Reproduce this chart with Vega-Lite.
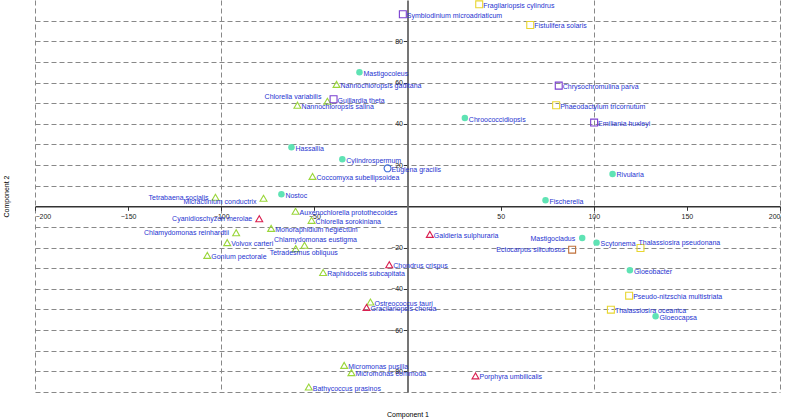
{
  "$schema": "https://vega.github.io/schema/vega-lite/v6.json",
  "width": 745,
  "height": 392,
  "autosize": "none",
  "padding": {"left": 35, "top": 0, "right": 7, "bottom": 28},
  "background": "white",
  "config": {
    "view": {"stroke": null},
    "font": "Liberation Sans",
    "axis": {"labelFont": "Liberation Sans", "titleFont": "Liberation Sans"}
  },
  "data": {
    "values": [
      {"name": "Mastigocoleus", "x": -25.8, "y": 65.0, "group": "Cyanobacteria"},
      {"name": "Hassallia", "x": -62.3, "y": 28.6, "group": "Cyanobacteria"},
      {"name": "Cylindrospermum", "x": -35.0, "y": 22.8, "group": "Cyanobacteria"},
      {"name": "Nostoc", "x": -67.7, "y": 5.8, "group": "Cyanobacteria"},
      {"name": "Chroococcidiopsis", "x": 30.8, "y": 42.8, "group": "Cyanobacteria"},
      {"name": "Rivularia", "x": 110.1, "y": 15.7, "group": "Cyanobacteria"},
      {"name": "Fischerella", "x": 74.1, "y": 2.9, "group": "Cyanobacteria"},
      {"name": "Mastigocladus", "x": 93.8, "y": -15.4, "group": "Cyanobacteria"},
      {"name": "Scytonema", "x": 101.5, "y": -17.6, "group": "Cyanobacteria"},
      {"name": "Gloeobacter", "x": 119.4, "y": -31.0, "group": "Cyanobacteria"},
      {"name": "Gloeocapsa", "x": 133.2, "y": -53.3, "group": "Cyanobacteria"},
      {"name": "Nannochloropsis gaditana", "x": -38.1, "y": 59.1, "group": "Green algae"},
      {"name": "Chlorella variabilis", "x": -43.0, "y": 50.9, "group": "Green algae"},
      {"name": "Nannochloropsis salina", "x": -59.1, "y": 49.0, "group": "Green algae"},
      {"name": "Coccomyxa subellipsoidea", "x": -51.0, "y": 14.5, "group": "Green algae"},
      {"name": "Tetrabaena socialis", "x": -103.1, "y": 4.4, "group": "Green algae"},
      {"name": "Micractinium conductrix", "x": -77.3, "y": 3.9, "group": "Green algae"},
      {"name": "Auxenochlorella protothecoides", "x": -60.1, "y": -2.4, "group": "Green algae"},
      {"name": "Chlorella sorokiniana", "x": -51.5, "y": -6.8, "group": "Green algae"},
      {"name": "Chlamydomonas reinhardtii", "x": -92.0, "y": -12.8, "group": "Green algae"},
      {"name": "Monoraphidium neglectum", "x": -73.2, "y": -10.7, "group": "Green algae"},
      {"name": "Volvox carteri", "x": -96.8, "y": -17.6, "group": "Green algae"},
      {"name": "Chlamydomonas eustigma", "x": -55.3, "y": -18.9, "group": "Green algae"},
      {"name": "Tetradesmus obliquus", "x": -60.0, "y": -20.5, "group": "Green algae"},
      {"name": "Gonium pectorale", "x": -107.5, "y": -23.8, "group": "Green algae"},
      {"name": "Raphidocelis subcapitata", "x": -45.3, "y": -32.1, "group": "Green algae"},
      {"name": "Ostreococcus tauri", "x": -19.9, "y": -46.4, "group": "Green algae"},
      {"name": "Micromonas pusilla", "x": -34.0, "y": -77.1, "group": "Green algae"},
      {"name": "Micromonas commoda", "x": -30.1, "y": -80.6, "group": "Green algae"},
      {"name": "Bathycoccus prasinos", "x": -53.0, "y": -87.6, "group": "Green algae"},
      {"name": "Cyanidioschyzon merolae", "x": -79.6, "y": -6.0, "group": "Red algae"},
      {"name": "Gracilariopsis chorda", "x": -22.0, "y": -49.0, "group": "Red algae"},
      {"name": "Chondrus crispus", "x": -9.8, "y": -28.3, "group": "Red algae"},
      {"name": "Galdieria sulphuraria", "x": 12.0, "y": -13.6, "group": "Red algae"},
      {"name": "Porphyra umbilicalis", "x": 36.5, "y": -82.2, "group": "Red algae"},
      {"name": "Fragilariopsis cylindrus", "x": 38.5, "y": 97.9, "group": "Diatoms"},
      {"name": "Fistulifera solaris", "x": 65.9, "y": 87.9, "group": "Diatoms"},
      {"name": "Phaeodactylum tricornutum", "x": 79.8, "y": 49.0, "group": "Diatoms"},
      {"name": "Thalassiosira pseudonana", "x": 125.1, "y": -20.2, "group": "Diatoms"},
      {"name": "Pseudo-nitzschia multistriata", "x": 119.0, "y": -43.3, "group": "Diatoms"},
      {"name": "Thalassiosira oceanica", "x": 109.2, "y": -50.1, "group": "Diatoms"},
      {"name": "Symbiodinium microadriaticum", "x": -2.5, "y": 93.1, "group": "Other chromalveolates"},
      {"name": "Guillardia theta", "x": -39.7, "y": 51.9, "group": "Other chromalveolates"},
      {"name": "Chrysochromulina parva", "x": 81.2, "y": 58.5, "group": "Other chromalveolates"},
      {"name": "Emiliania huxleyi", "x": 100.2, "y": 40.6, "group": "Other chromalveolates"},
      {"name": "Ectocarpus siliculosus", "x": 88.4, "y": -21.0, "group": "Brown algae"},
      {"name": "Euglena gracilis", "x": -10.7, "y": 18.4, "group": "Euglenozoa"}
    ]
  },
  "encoding": {
    "x": {"field": "x", "type": "quantitative", "scale": {"domain": [-200, 200], "nice": false, "zero": false}},
    "y": {"field": "y", "type": "quantitative", "scale": {"domain": [-90, 100], "nice": false, "zero": false}}
  },
  "resolve": {"axis": {"x": "independent", "y": "independent"}},
  "layer": [
    {
      "transform": [{"filter": {"field": "group", "equal": "Cyanobacteria"}}],
      "mark": {"type": "point", "shape": "circle", "filled": true, "size": 42, "opacity": 1},
      "encoding": {
        "x": {"field": "x", "type": "quantitative", "axis": {"orient": "bottom", "values": [-200, -100, 100, 200], "grid": true, "gridDash": [5, 3], "gridColor": "#888", "gridWidth": 1, "gridOpacity": 1, "labels": false, "ticks": false, "domain": false, "title": "Component 1", "titleFontSize": 7, "titleFontWeight": "normal", "titleColor": "#000", "titlePadding": 18}},
        "y": {"field": "y", "type": "quantitative", "axis": {"orient": "left", "values": [-90, -80, -70, -60, -50, -40, -30, -20, -10, 10, 20, 30, 40, 50, 60, 70, 80, 90], "grid": true, "gridDash": [5, 3], "gridColor": "#888", "gridWidth": 1, "gridOpacity": 1, "labels": false, "ticks": false, "domain": false, "title": "Component 2", "titleFontSize": 7, "titleFontWeight": "normal", "titleColor": "#000", "titlePadding": 26}},
        "color": {"field": "group", "type": "nominal", "legend": null, "scale": {"domain": ["Cyanobacteria", "Green algae", "Red algae", "Diatoms", "Other chromalveolates", "Brown algae", "Euglenozoa"], "range": ["#5fe3b4", "#9ad63a", "#d92050", "#e8d630", "#7a3fd0", "#c0703a", "#3a6ad6"]}}
      }
    },
    {
      "transform": [{"filter": {"not": {"field": "group", "equal": "Cyanobacteria"}}}],
      "mark": {"type": "point", "filled": false, "size": 48, "strokeWidth": 1.1, "opacity": 1},
      "encoding": {
        "x": {"field": "x", "type": "quantitative", "axis": {"orient": "bottom", "offset": -185.7, "values": [-200, -150, -100, -50, 50, 100, 150, 200], "grid": false, "domain": true, "domainColor": "#333", "domainWidth": 1.5, "ticks": true, "tickColor": "#333", "tickSize": 4, "labelFontSize": 7, "labelColor": "#222", "labelPadding": 2, "title": null}},
        "y": {"field": "y", "type": "quantitative", "axis": {"orient": "left", "offset": -372.5, "values": [-80, -60, -40, -20, 20, 40, 60, 80], "grid": false, "domain": true, "domainColor": "#666", "domainWidth": 1.8, "ticks": true, "tickColor": "#333", "tickSize": 4, "labelFontSize": 7, "labelColor": "#222", "labelPadding": 1, "title": null}},
        "shape": {"field": "group", "type": "nominal", "legend": null, "scale": {"domain": ["Green algae", "Red algae", "Diatoms", "Other chromalveolates", "Brown algae", "Euglenozoa"], "range": ["triangle-up", "triangle-up", "square", "square", "square", "circle"]}},
        "color": {"field": "group", "type": "nominal", "legend": null}
      }
    },
    {
      "transform": [{"filter": {"not": {"field": "name", "oneOf": ["Tetrabaena socialis", "Cyanidioschyzon merolae", "Chlamydomonas reinhardtii", "Mastigocladus", "Ectocarpus siliculosus", "Chlorella variabilis", "Micractinium conductrix", "Chlamydomonas eustigma", "Tetradesmus obliquus", "Thalassiosira pseudonana"]}}}],
      "mark": {"type": "text", "align": "left", "baseline": "middle", "dx": 4, "dy": 1.5, "fontSize": 7, "color": "#2633d0"},
      "encoding": {"x": {"field": "x", "type": "quantitative", "axis": null}, "y": {"field": "y", "type": "quantitative", "axis": null}, "text": {"field": "name"}}
    },
    {
      "transform": [{"filter": {"field": "name", "oneOf": ["Tetrabaena socialis", "Cyanidioschyzon merolae", "Chlamydomonas reinhardtii", "Mastigocladus", "Ectocarpus siliculosus"]}}],
      "mark": {"type": "text", "align": "right", "baseline": "middle", "dx": -7, "dy": 0.5, "fontSize": 7, "color": "#2633d0"},
      "encoding": {"x": {"field": "x", "type": "quantitative", "axis": null}, "y": {"field": "y", "type": "quantitative", "axis": null}, "text": {"field": "name"}}
    },
    {
      "transform": [{"filter": {"field": "name", "oneOf": ["Chlorella variabilis"]}}],
      "mark": {"type": "text", "align": "right", "baseline": "middle", "dx": -6, "dy": -4, "fontSize": 7, "color": "#2633d0"},
      "encoding": {"x": {"field": "x", "type": "quantitative", "axis": null}, "y": {"field": "y", "type": "quantitative", "axis": null}, "text": {"field": "name"}}
    },
    {
      "transform": [{"filter": {"field": "name", "oneOf": ["Micractinium conductrix"]}}],
      "mark": {"type": "text", "align": "right", "baseline": "middle", "dx": -7, "dy": 4, "fontSize": 7, "color": "#2633d0"},
      "encoding": {"x": {"field": "x", "type": "quantitative", "axis": null}, "y": {"field": "y", "type": "quantitative", "axis": null}, "text": {"field": "name"}}
    },
    {
      "transform": [{"filter": {"field": "name", "oneOf": ["Chlamydomonas eustigma"]}}],
      "mark": {"type": "text", "align": "center", "baseline": "middle", "dx": 11, "dy": -5, "fontSize": 7, "color": "#2633d0"},
      "encoding": {"x": {"field": "x", "type": "quantitative", "axis": null}, "y": {"field": "y", "type": "quantitative", "axis": null}, "text": {"field": "name"}}
    },
    {
      "transform": [{"filter": {"field": "name", "oneOf": ["Tetradesmus obliquus"]}}],
      "mark": {"type": "text", "align": "center", "baseline": "middle", "dx": 8, "dy": 4.5, "fontSize": 7, "color": "#2633d0"},
      "encoding": {"x": {"field": "x", "type": "quantitative", "axis": null}, "y": {"field": "y", "type": "quantitative", "axis": null}, "text": {"field": "name"}}
    },
    {
      "transform": [{"filter": {"field": "name", "oneOf": ["Thalassiosira pseudonana"]}}],
      "mark": {"type": "text", "align": "left", "baseline": "middle", "dx": -2, "dy": -5, "fontSize": 7, "color": "#2633d0"},
      "encoding": {"x": {"field": "x", "type": "quantitative", "axis": null}, "y": {"field": "y", "type": "quantitative", "axis": null}, "text": {"field": "name"}}
    }
  ]
}
